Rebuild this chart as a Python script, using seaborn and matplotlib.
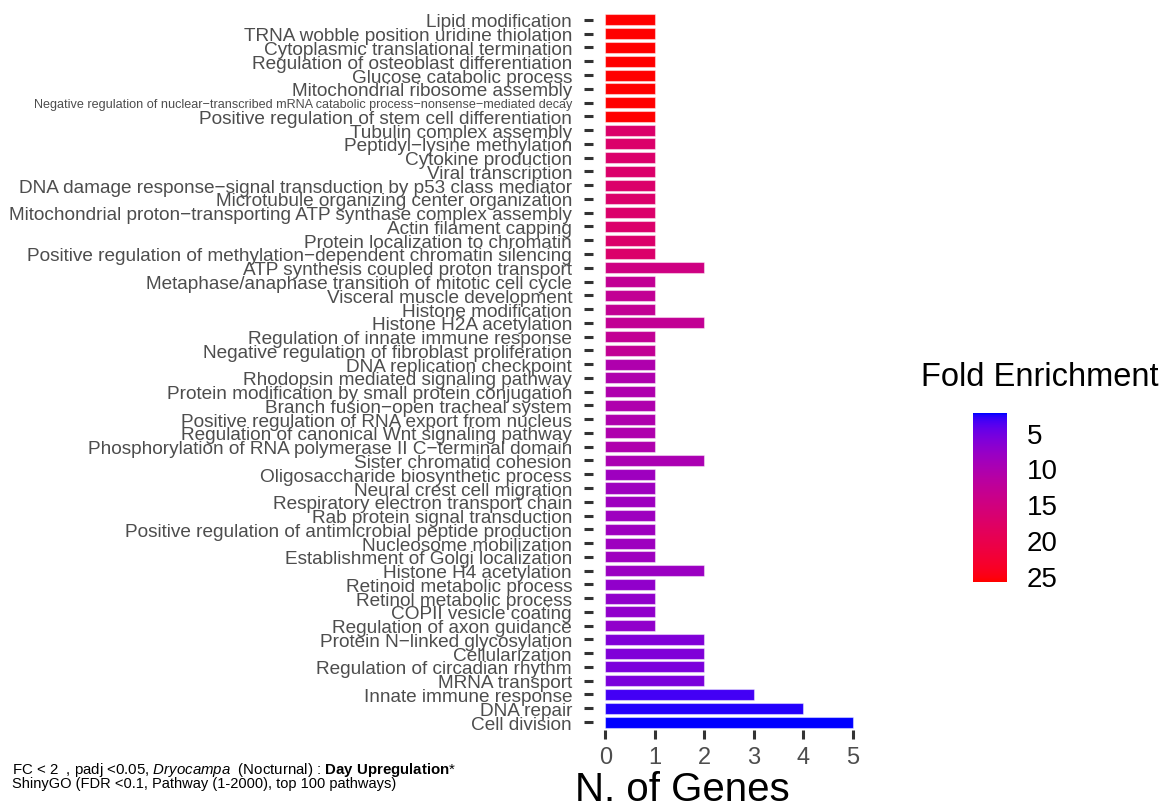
import numpy as np
import pandas as pd
import matplotlib
matplotlib.use("Agg")
import matplotlib.pyplot as plt
import seaborn as sns
from matplotlib.colors import ListedColormap, Normalize
from matplotlib.cm import ScalarMappable

# ---------------- data (top to bottom) ----------------
pathways = [
    "Lipid modification",
    "TRNA wobble position uridine thiolation",
    "Cytoplasmic translational termination",
    "Regulation of osteoblast differentiation",
    "Glucose catabolic process",
    "Mitochondrial ribosome assembly",
    "Negative regulation of nuclear\u2212transcribed mRNA catabolic process\u2212nonsense\u2212mediated decay",
    "Positive regulation of stem cell differentiation",
    "Tubulin complex assembly",
    "Peptidyl\u2212lysine methylation",
    "Cytokine production",
    "Viral transcription",
    "DNA damage response\u2212signal transduction by p53 class mediator",
    "Microtubule organizing center organization",
    "Mitochondrial proton\u2212transporting ATP synthase complex assembly",
    "Actin filament capping",
    "Protein localization to chromatin",
    "Positive regulation of methylation\u2212dependent chromatin silencing",
    "ATP synthesis coupled proton transport",
    "Metaphase/anaphase transition of mitotic cell cycle",
    "Visceral muscle development",
    "Histone modification",
    "Histone H2A acetylation",
    "Regulation of innate immune response",
    "Negative regulation of fibroblast proliferation",
    "DNA replication checkpoint",
    "Rhodopsin mediated signaling pathway",
    "Protein modification by small protein conjugation",
    "Branch fusion\u2212open tracheal system",
    "Positive regulation of RNA export from nucleus",
    "Regulation of canonical Wnt signaling pathway",
    "Phosphorylation of RNA polymerase II C\u2212terminal domain",
    "Sister chromatid cohesion",
    "Oligosaccharide biosynthetic process",
    "Neural crest cell migration",
    "Respiratory electron transport chain",
    "Rab protein signal transduction",
    "Positive regulation of antimicrobial peptide production",
    "Nucleosome mobilization",
    "Establishment of Golgi localization",
    "Histone H4 acetylation",
    "Retinoid metabolic process",
    "Retinol metabolic process",
    "COPII vesicle coating",
    "Regulation of axon guidance",
    "Protein N\u2212linked glycosylation",
    "Cellularization",
    "Regulation of circadian rhythm",
    "MRNA transport",
    "Innate immune response",
    "DNA repair",
    "Cell division",
]

n_genes = [1, 1, 1, 1, 1, 1, 1, 1,
           1, 1, 1, 1, 1, 1, 1, 1, 1, 1,
           2,
           1, 1, 1,
           2,
           1, 1,
           1, 1, 1, 1, 1, 1, 1,
           2,
           1, 1, 1, 1, 1, 1, 1,
           2,
           1, 1, 1, 1,
           2, 2, 2, 2,
           3, 4, 5]

fold_enrichment = [25.84, 25.84, 25.84, 25.84, 25.84, 25.84, 25.84, 25.84,
                   17.23, 17.23, 17.23, 17.23, 17.23, 17.23, 17.23, 17.23, 17.23, 17.23,
                   14.77,
                   12.92, 12.92, 12.92,
                   12.92,
                   12.92, 12.92,
                   10.34, 10.34, 10.34, 10.34, 10.34, 10.34, 10.34,
                   9.90,
                   8.61, 8.61, 8.61, 8.61, 8.61, 8.61, 8.61,
                   8.20,
                   7.38, 7.38, 7.38, 7.38,
                   6.10, 6.10, 5.74, 5.74,
                   3.30, 2.58, 2.29]

cbar_ticks = [5, 10, 15, 20, 25]
x_ticks = [0, 1, 2, 3, 4, 5]

caption_1 = r"FC < 2  , padj <0.05, $\mathit{Dryocampa}$  (Nocturnal) : $\mathbf{Day\ Upregulation}$*"
caption_2 = "ShinyGO (FDR <0.1, Pathway (1-2000), top 100 pathways)"

# ---------------- Lab colour gradient (blue -> red) ----------------
M = np.array([[0.4124, 0.3576, 0.1805],
              [0.2126, 0.7152, 0.0722],
              [0.0193, 0.1192, 0.9505]])
WHITE = np.array([0.95047, 1.0, 1.08883])


def _to_lin(c):
    c = np.asarray(c, float)
    return np.where(c <= 0.04045, c / 12.92, ((c + 0.055) / 1.055) ** 2.4)


def _to_srgb(c):
    c = np.clip(c, 0, 1)
    return np.where(c <= 0.0031308, 12.92 * c, 1.055 * c ** (1 / 2.4) - 0.055)


def rgb_to_lab(rgb):
    xyz = M @ _to_lin(rgb) / WHITE
    f = np.where(xyz > 216 / 24389, np.cbrt(xyz), (24389 / 27 * xyz + 16) / 116)
    return np.array([116 * f[1] - 16, 500 * (f[0] - f[1]), 200 * (f[1] - f[2])])


def lab_to_rgb(lab):
    L, a, b = lab
    fy = (L + 16) / 116
    f = np.array([fy + a / 500, fy, fy - b / 200])
    xyz = np.where(f ** 3 > 216 / 24389, f ** 3, (116 * f - 16) / (24389 / 27)) * WHITE
    return _to_srgb(np.linalg.inv(M) @ xyz)


lab_lo = rgb_to_lab([0, 0, 1])
lab_hi = rgb_to_lab([1, 0, 0])
cmap = ListedColormap([lab_to_rgb(lab_lo + (lab_hi - lab_lo) * t)
                       for t in np.linspace(0, 1, 256)])

# ---------------- plot ----------------
sns.set_theme(style="white")
plt.rcParams["font.family"] = ["Liberation Sans", "DejaVu Sans"]
plt.rcParams["mathtext.fontset"] = "custom"
plt.rcParams["mathtext.rm"] = "Liberation Sans"
plt.rcParams["mathtext.it"] = "Liberation Sans:italic"
plt.rcParams["mathtext.bf"] = "Liberation Sans:bold"

fig = plt.figure(figsize=(11.65, 8.03), dpi=100)
ax = fig.add_axes([0.509, 0.0893, 0.2335, 0.8949])

df = pd.DataFrame({"pathway": pathways, "genes": n_genes, "fe": fold_enrichment})
norm = Normalize(vmin=min(fold_enrichment), vmax=max(fold_enrichment))
palette = {p: cmap(norm(f)) for p, f in zip(pathways, fold_enrichment)}

sns.barplot(data=df, x="genes", y="pathway", hue="pathway", palette=palette,
            orient="h", width=0.8, dodge=False, legend=False, ax=ax,
            edgecolor=(1, 1, 1, 0.45), linewidth=0.8, saturation=1)

ax.set_xlim(-0.25, 5.25)
ax.set_ylim(len(pathways) - 0.4, -0.6)
ax.set_xticks(x_ticks)
ax.set_xlabel("")
ax.set_ylabel("")
sns.despine(ax=ax, left=True, bottom=True)
ax.grid(False)

ax.tick_params(axis="y", length=6.5, width=2.2, color="#333333", pad=8.6,
               labelsize=13.65, labelcolor="#4D4D4D", left=True)
ax.tick_params(axis="x", length=6.5, width=2.2, color="#333333", pad=5,
               labelsize=17, labelcolor="#4D4D4D", bottom=True)
for lbl in ax.get_yticklabels():
    if lbl.get_text().startswith("Negative regulation of nuclear"):
        lbl.set_fontsize(9.05)

fig.text(575 / 1165, 1.5 / 803, "N. of Genes", fontsize=29, color="black",
         ha="left", va="baseline")

# colour bar legend
cax = fig.add_axes([0.8352, 0.2743, 0.0292, 0.2097])
cb = fig.colorbar(ScalarMappable(norm=norm, cmap=cmap), cax=cax)
cb.outline.set_visible(False)
cb.set_ticks(cbar_ticks)
cax.invert_yaxis()
cax.tick_params(direction="in", length=5, width=0.8, colors="white",
                left=True, right=True, labelleft=False, labelright=True,
                labelsize=20, labelcolor="black", pad=14)
fig.text(921 / 1165, 1 - 378 / 803, "Fold Enrichment", fontsize=23.5,
         color="black", ha="left", va="center")

# caption
fig.text(12 / 1165, 1 - 774 / 803, caption_1, fontsize=10.8, color="black",
         ha="left", va="baseline")
fig.text(12 / 1165, 1 - 788 / 803, caption_2, fontsize=10.5, color="black",
         ha="left", va="baseline")

fig.savefig("out.png", dpi=100)
